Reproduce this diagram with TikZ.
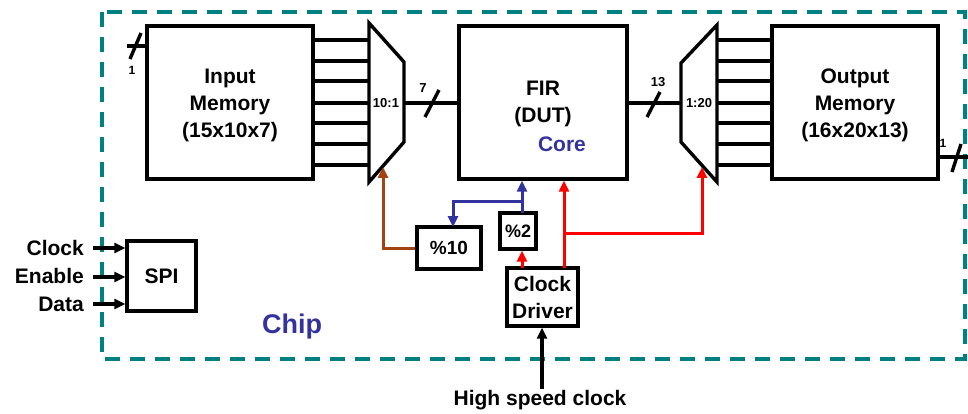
\documentclass[tikz,border=0pt]{standalone}
\usepackage{fontspec}
\setmainfont{Liberation Sans}
\usetikzlibrary{arrows.meta}
\definecolor{chipteal}{RGB}{0,128,128}
\definecolor{myblue}{RGB}{51,51,160}
\definecolor{mybrown}{RGB}{165,66,18}
\begin{document}
\begin{tikzpicture}[x=1pt,y=-1pt,
  font=\bfseries\fontsize{21}{27}\selectfont,
  box/.style={draw, line width=3.4pt, inner sep=0pt, align=center},
  wire/.style={line width=3.4pt},
  cwire/.style={line width=3pt},
  arr/.style={-{Triangle[length=11pt,width=10pt]}},
  small/.style={font=\bfseries\fontsize{13}{15}\selectfont, inner sep=0pt},
  lbl/.style={inner sep=0pt}]
\useasboundingbox (0,0) rectangle (968,414);
% chip border
\draw[chipteal, line width=3.2pt, dash pattern=on 15pt off 10pt] (102,12) rectangle (965,359);
\node[lbl, myblue, font=\bfseries\fontsize{27}{30}\selectfont] (chip) at (292,327) {Chip};

% memories and FIR
\node[box, minimum width=166pt, minimum height=153pt] (inmem) at (230,102.5) {};
\node[lbl, align=center] (intxt) at (230,105) {Input\\Memory\\(15x10x7)};
\node[box, minimum width=168pt, minimum height=153pt] (fir) at (543,102.5) {};
\node[lbl, align=center] (firtxt) at (543,104) {FIR\\(DUT)};
\node[lbl, myblue] (core) at (562,144) {Core};
\node[box, minimum width=166pt, minimum height=153pt] (outmem) at (855,102.5) {};
\node[lbl, align=center] (outtxt) at (855,105) {Output\\Memory\\(16x20x13)};

% mux 1
\coordinate (m1l) at (369,103);
\coordinate (m1r) at (404,103);
\draw[wire, line join=miter] (369,23) -- (404,62) -- (404,142) -- (369,182) -- cycle;
\node[small] (m1lbl) at (386,103) {10:1};
\foreach \y in {40,61,81,103,123,144,165}
  \draw[wire] (inmem.east |- 0,\y) -- (m1l |- 0,\y);

% mux 2
\coordinate (m2l) at (681,103);
\coordinate (m2r) at (717,103);
\draw[wire, line join=miter] (681,63) -- (717,25) -- (717,182) -- (681,142) -- cycle;
\node[small] (m2lbl) at (699,103) {1:20};
\foreach \y in {40,61,81,103,123,144,165}
  \draw[wire] (m2r |- 0,\y) -- (outmem.west |- 0,\y);

% buses
\draw[wire] (m1r) -- (fir.west |- m1r);
\draw[wire] (425,117) -- (439,90);
\node[small] (w7) at (423,88) {7};
\draw[wire] (fir.east |- m2l) -- (m2l);
\draw[wire] (647,117) -- (660,92);
\node[small] (w13) at (658,82) {13};

% input bit
\coordinate (inbit) at (127,46);
\draw[wire] (inbit) -- (inmem.west |- inbit);
\draw[wire] (130,59) -- (141,33);
\node[small, font=\bfseries\fontsize{12}{14}\selectfont] (w1a) at (132,70) {1};

% output bit
\coordinate (outbit) at (968,157);
\draw[wire] (outmem.east |- outbit) -- (outbit);
\draw[wire] (952,172) -- (961,144);
\node[small, font=\bfseries\fontsize{12}{14}\selectfont] (w1b) at (943,143) {1};

% SPI
\node[box, minimum width=69pt, minimum height=70pt] (spi) at (161.5,276) {SPI};
\node[lbl, anchor=east] (lclk) at (84,248) {Clock};
\node[lbl, anchor=east] (len) at (84,276) {Enable};
\node[lbl, anchor=east] (ldat) at (84,304) {Data};
\foreach \n/\y in {c/248,e/277,d/304}{
  \coordinate (s\n) at (93,\y);
  \draw[wire, arr] (s\n) -- (spi.west |- s\n);
}

% clock blocks
\node[box, minimum width=64pt, minimum height=42pt, font=\bfseries\fontsize{19}{22}\selectfont] (p10) at (449,248) {\%10};
\node[box, minimum width=36pt, minimum height=36pt, font=\bfseries\fontsize{18}{22}\selectfont] (p2) at (518,231) {\%2};
\node[box, minimum width=71pt, minimum height=58pt] (cd) at (542.5,297) {Clock\\Driver};

% brown: %10 -> mux1
\coordinate (m1b) at (383,167);
\draw[mybrown, cwire, arr] (p10.west) -| (m1b);

% blue: %2 -> FIR and %10
\coordinate (bx) at (522,213);
\coordinate (bj) at (522,201);
\coordinate (b10) at (453,227);
\draw[myblue, cwire, arr] (bx) -- (bx |- fir.south);
\draw[myblue, cwire, arr] (bj) -| (b10);

% red: clock driver outputs
\coordinate (ra) at (522,268);
\coordinate (rb) at (564,268);
\coordinate (rj) at (564,233);
\coordinate (m2b) at (702,167);
\draw[red, cwire, arr] (ra) -- (ra |- p2.south);
\draw[red, cwire, arr] (rb) -- (rb |- fir.south);
\draw[red, cwire, arr] (rj) -| (m2b);

% high speed clock
\node[lbl] (hsc) at (540,400) {High speed clock};
\coordinate (hs) at (542,389);
\draw[wire, arr] (hs) -- (hs |- cd.south);
\end{tikzpicture}
\end{document}
